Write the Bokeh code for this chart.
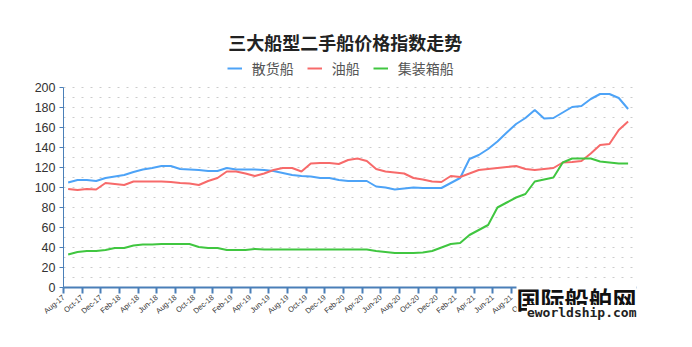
from bokeh.plotting import figure
from bokeh.models import (Range1d, FixedTicker, SingleIntervalTicker, Label, Legend, LegendItem,
                          LinearAxis, Grid)
from bokeh.embed import file_html
from bokeh.resources import INLINE

title_text = "三大船型二手船价格指数走势"
series_names = ["散货船", "油船", "集装箱船"]

months = [
    "Aug-17", "Sep-17", "Oct-17", "Nov-17", "Dec-17", "Jan-18", "Feb-18", "Mar-18",
    "Apr-18", "May-18", "Jun-18", "Jul-18", "Aug-18", "Sep-18", "Oct-18", "Nov-18",
    "Dec-18", "Jan-19", "Feb-19", "Mar-19", "Apr-19", "May-19", "Jun-19", "Jul-19",
    "Aug-19", "Sep-19", "Oct-19", "Nov-19", "Dec-19", "Jan-20", "Feb-20", "Mar-20",
    "Apr-20", "May-20", "Jun-20", "Jul-20", "Aug-20", "Sep-20", "Oct-20", "Nov-20",
    "Dec-20", "Jan-21", "Feb-21", "Mar-21", "Apr-21", "May-21", "Jun-21", "Jul-21",
    "Aug-21", "Sep-21", "Oct-21", "Nov-21", "Dec-21", "Jan-22", "Feb-22", "Mar-22",
    "Apr-22", "May-22", "Jun-22", "Jul-22", "Aug-22",
]

bulk = [
    105, 107.5, 107.5, 106.5, 109.5, 111, 112.5, 115.5, 118, 119.5,
    121.5, 121.5, 118.5, 118, 117.5, 116.5, 116.5, 119.5, 118, 118,
    118, 117.5, 116.5, 114.5, 112.5, 111.5, 111, 109.5, 109.5, 107.5,
    106.5, 106.5, 106.5, 101, 100, 98, 99, 100, 99.5, 99.5,
    99.5, 104.5, 109.5, 128.5, 132.5, 138.5, 146, 155, 163.5, 169.5,
    177.5, 169, 169.5, 175, 180.5, 181.5, 188.5, 193.5, 193.5, 189.5,
    178.5,
]

tanker = [
    98.5, 97.5, 98.5, 98, 104.5, 103.5, 102.5, 106, 106, 106,
    106, 105.5, 104.5, 104, 102.5, 106.5, 109.5, 116, 116, 114,
    111.5, 114, 117.5, 119.5, 119.5, 116, 124, 124.5, 124.5, 123.5,
    127.5, 129, 126.5, 118.5, 116, 115, 114, 109.5, 108, 106,
    105.5, 111.5, 110.5, 114, 117.5, 118.5, 119.5, 120.5, 121.5, 118.5,
    117.5, 118.5, 119.5, 125, 125.5, 126.5, 134, 142.5, 143.5, 157.5,
    166,
]

container = [
    33, 35.5, 36.5, 36.5, 37.5, 39.5, 39.5, 42, 43, 43,
    43.5, 43.5, 43.5, 43.5, 40.5, 39.5, 39.5, 37.5, 37.5, 37.5,
    38.5, 38, 38, 38, 38, 38, 38, 38, 38, 38,
    38, 38, 38, 36.5, 35.5, 34.5, 34.5, 34.5, 35, 36.5,
    40, 43.5, 44.5, 52.5, 57.5, 62.5, 80, 85, 90, 93.5,
    106, 108, 110, 125, 129, 129, 129, 126, 125, 124,
    124,
]

colors = ["#4da3f7", "#f76a6a", "#40c640"]
axis_color = "#4a7fb8"

x = [i + 0.5 for i in range(len(months))]
x_end = 61.4
tick_pos = list(range(0, len(months), 2))
tick_labels = {t: months[t] for t in tick_pos}

# The frame spans the whole canvas; value 0 sits 63px from the left and 60px above the bottom.
px_per_month = 573 / x_end
p = figure(width=692, height=347, output_backend="svg", toolbar_location=None, title=None,
           x_range=Range1d(-63 / px_per_month, (692 - 63) / px_per_month),
           y_range=Range1d(-60, 287),
           x_axis_location=None, y_axis_location=None,
           min_border_left=0, min_border_right=0, min_border_top=0, min_border_bottom=0)
p.outline_line_color = None
p.background_fill_color = "white"
p.border_fill_color = "white"
p.xgrid.visible = False
p.ygrid.visible = False

# dotted grid
grid = Grid(dimension=1, ticker=SingleIntervalTicker(interval=10), bounds=(0, 200),
            grid_line_color="#cccccc", grid_line_dash="2 7")
try:
    grid.cross_bounds = (0, x_end)
except Exception:
    pass
p.add_layout(grid, "center")

renderers = []
for ys, c in zip([bulk, tanker, container], colors):
    r = p.line(x, ys, line_color=c, line_width=2)
    renderers.append(r)

# x axis fixed at value 0
xaxis = LinearAxis(fixed_location=0, bounds=(0, x_end))
xaxis.ticker = FixedTicker(ticks=tick_pos)
xaxis.major_label_overrides = tick_labels
xaxis.major_label_orientation = 0.7
xaxis.major_label_text_font_size = "7.5px"
xaxis.major_label_text_color = "#333333"
xaxis.major_label_text_font = "Liberation Sans"
xaxis.axis_line_color = axis_color
xaxis.axis_line_width = 2
xaxis.major_tick_line_color = axis_color
xaxis.major_tick_line_width = 2
xaxis.major_tick_out = 6
xaxis.major_tick_in = 0
xaxis.minor_tick_line_color = None
xaxis.major_label_standoff = 3
p.add_layout(xaxis, "below")

# y axis fixed at x = 0
yaxis = LinearAxis(fixed_location=0, bounds=(0, 200))
yaxis.ticker = SingleIntervalTicker(interval=20)
yaxis.axis_line_color = axis_color
yaxis.major_tick_line_color = axis_color
yaxis.major_tick_out = 4
yaxis.major_tick_in = 0
yaxis.minor_tick_line_color = None
yaxis.major_label_text_font_size = "12.5px"
yaxis.major_label_text_color = "#333333"
yaxis.major_label_text_font = "Liberation Sans"
yaxis.major_label_standoff = 4
p.add_layout(yaxis, "left")

# title
p.add_layout(Label(x=30.2, y=245.5, text=title_text, text_align="center", text_baseline="middle",
                   text_font="Noto Sans CJK SC", text_font_style="bold", text_font_size="18px",
                   text_color="#222222"))

legend = Legend(items=[LegendItem(label=n, renderers=[r]) for n, r in zip(series_names, renderers)],
                orientation="horizontal", location=(226.7, 268.7), margin=0, padding=0,
                spacing=13, label_standoff=10, glyph_width=15, glyph_height=20, label_height=20,
                label_text_font="Noto Sans CJK SC", label_text_font_size="14px",
                label_text_color="#555555", border_line_color=None, background_fill_alpha=0)
p.add_layout(legend, "center")

# watermark
p.add_layout(Label(x=x_end, y=-11, text="国际船舶网", text_align="right", text_baseline="middle",
                   text_font="Noto Sans CJK SC", text_font_style="bold", text_font_size="24px",
                   text_color="#111111", background_fill_color="white"))
p.add_layout(Label(x=x_end, y=-25, text="eworldship.com", text_align="right", text_baseline="middle",
                   text_font="DejaVu Sans Mono", text_font_style="bold", text_font_size="13px",
                   text_color="#222222", background_fill_color="white"))

open("out.html", "w").write(file_html(p, INLINE))
